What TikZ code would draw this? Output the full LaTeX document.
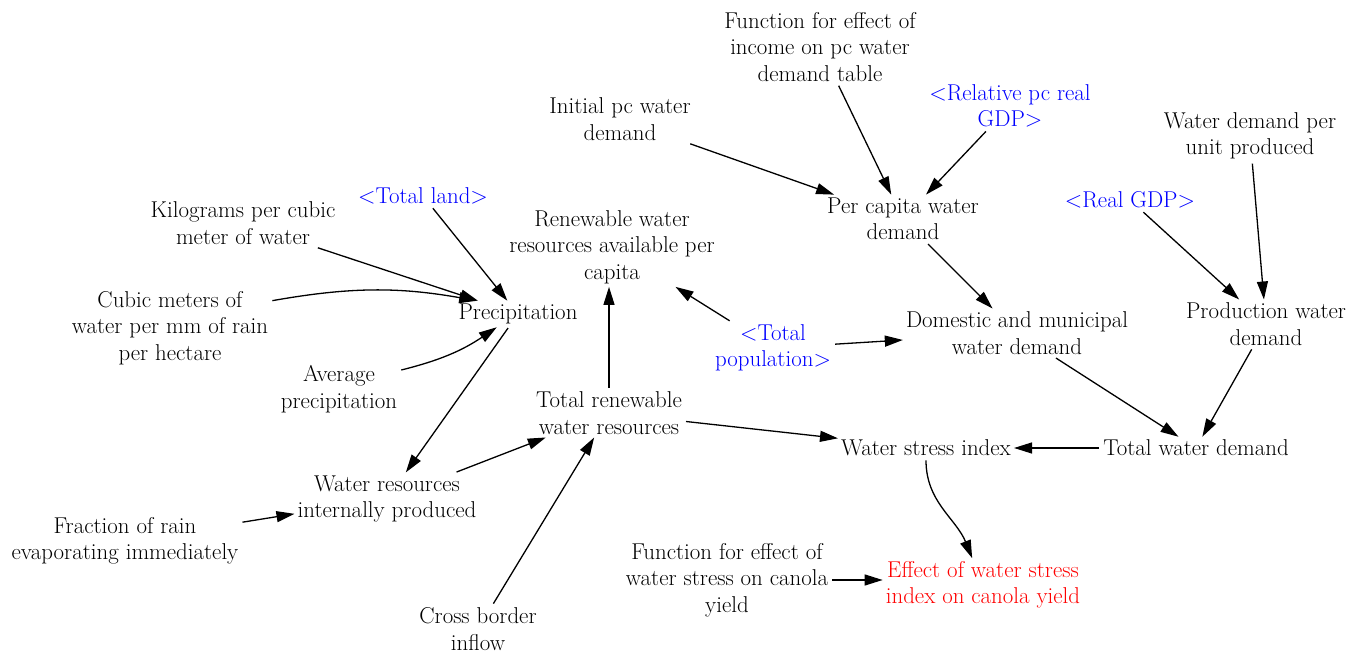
\documentclass[tikz,border=0pt]{standalone}
\usepackage{tikz}
\usetikzlibrary{shapes,arrows.meta,positioning}

\begin{document}
\begin{tikzpicture}[
      x=1pt, y=1pt,
      var/.style={align=center, inner sep=3pt, font=\fontsize{22.9}{26.5}\selectfont},
      shadow/.style={var, text=blue},
      output/.style={var, text=red},
      link/.style={-{Triangle[length=18pt,width=11pt]}, line width=1.3pt, shorten <=1pt}
    ]
    \useasboundingbox (0,0) rectangle (1348,655);

    \node[var] (incomefn) at (820,608) {Function for effect of\\income on pc water\\demand table};
    \node[var] (initpc) at (620,536) {Initial pc water\\demand};
    \node[shadow] (relgdp) at (1010,549) {<Relative pc real\\GDP>};
    \node[var] (unitdemand) at (1250,519) {Water demand per\\unit produced};
    \node[shadow] (land) at (423,459) {<Total land>};
    \node[var] (kgcubic) at (243,432) {Kilograms per cubic\\meter of water};
    \node[var] (pcdemand) at (903,436) {Per capita water\\demand};
    \node[shadow] (realgdp) at (1130,455) {<Real GDP>};
    \node[var] (renewpc) at (612,408) {Renewable water\\resources available per\\capita};
    \node[var] (cubicmm) at (170,327) {Cubic meters of\\water per mm of rain\\per hectare};
    \node[var] (precip) at (518,341) {Precipitation};
    \node[shadow] (pop) at (773,307) {<Total\\population>};
    \node[var] (domestic) at (1017,322) {Domestic and municipal\\water demand};
    \node[var] (production) at (1266,331) {Production water\\demand};
    \node[var] (avgprecip) at (339,266) {Average\\precipitation};
    \node[var] (renew) at (609,242) {Total renewable\\water resources};
    \node[var] (stress) at (926,207) {Water stress index};
    \node[var] (demand) at (1196,207) {Total water demand};
    \node[var] (internal) at (387,156) {Water resources\\internally produced};
    \node[var] (evap) at (125,114) {Fraction of rain\\evaporating immediately};
    \node[var] (stressfn) at (727,75) {Function for effect of\\water stress on canola\\yield};
    \node[output] (canola) at (983,70) {Effect of water stress\\index on canola yield};
    \node[var] (inflow) at (478,26) {Cross border\\inflow};

    \draw[link] (incomefn) -- (pcdemand);
    \draw[link] (initpc) -- (pcdemand);
    \draw[link] (relgdp) -- (pcdemand);
    \draw[link] (unitdemand) -- (production);
    \draw[link] (realgdp) -- (production);
    \draw[link] (pcdemand) -- (domestic);
    \draw[link] (pop) -- (domestic);
    \draw[link] (pop) -- (renewpc);
    \draw[link] (renew) -- (renew |- renewpc.south);
    \draw[link] (domestic) -- (demand);
    \draw[link] (production) -- (demand);
    \draw[link] (demand) -- (stress);
    \draw[link] (renew) -- (stress);
    \draw[link] (stress) to[out=-90, in=112] (canola);
    \draw[link] (stressfn.east) -- (stressfn.east -| canola.west);
    \draw[link] (land) -- (precip);
    \draw[link] (kgcubic) -- (precip);
    \draw[link] (cubicmm.15) to[bend left=10] (precip.162);
    \draw[link] (avgprecip.17) to[bend right=10] (precip.212);
    \draw[link] (precip) -- (internal);
    \draw[link] (internal) -- (renew);
    \draw[link] (evap) -- (internal);
    \draw[link] (inflow) -- (renew);
  \end{tikzpicture}
\end{document}
